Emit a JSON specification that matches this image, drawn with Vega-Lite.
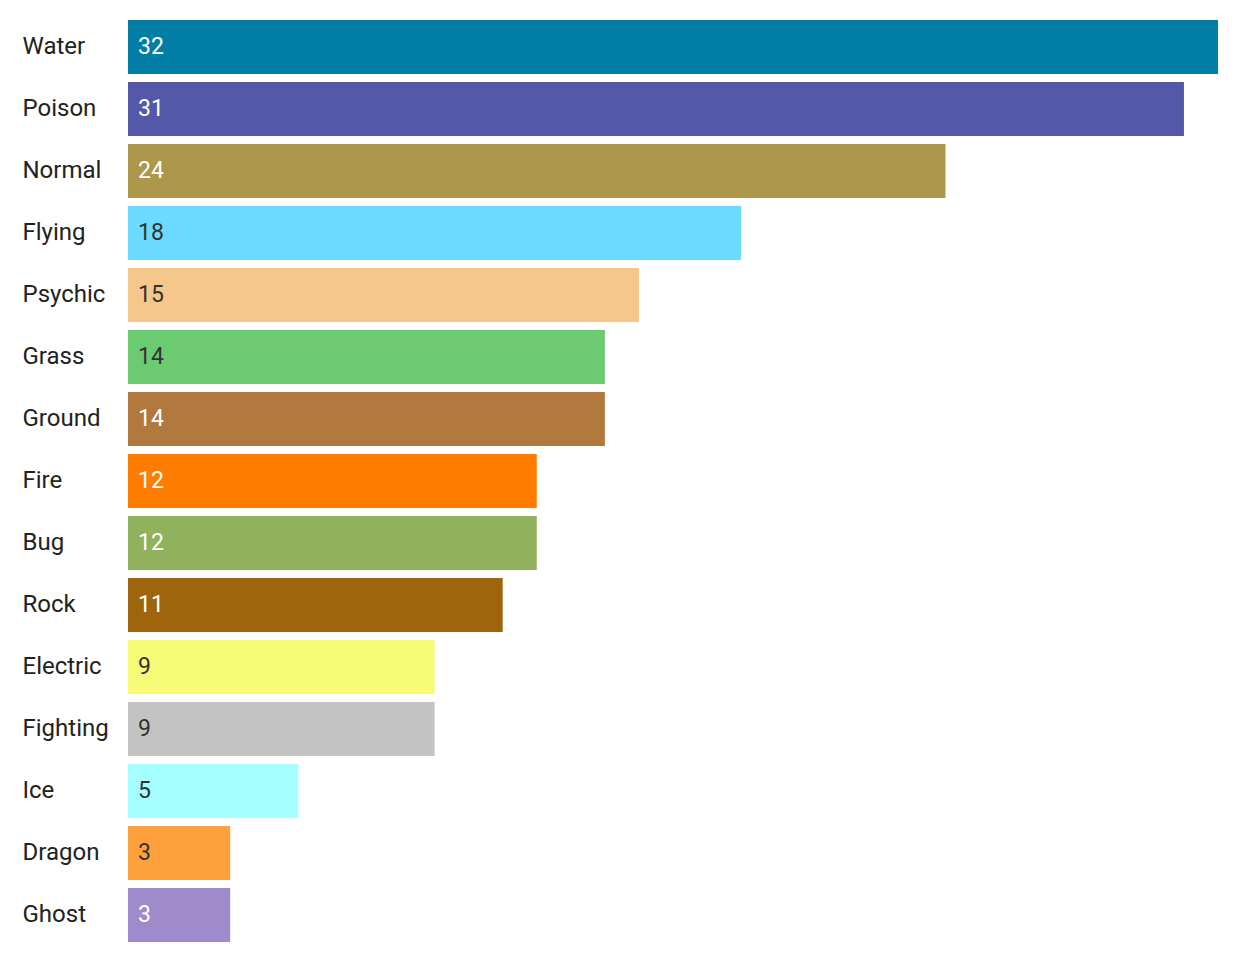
{
  "$schema": "https://vega.github.io/schema/vega-lite/v6.json",
  "width": 1090,
  "height": 930,
  "autosize": "none",
  "padding": {"left": 128, "top": 16, "right": 22, "bottom": 16},
  "background": "white",
  "config": {"view": {"stroke": null}, "font": "Roboto"},
  "data": {
    "values": [
      {"type": "Water", "count": 32},
      {"type": "Poison", "count": 31},
      {"type": "Normal", "count": 24},
      {"type": "Flying", "count": 18},
      {"type": "Psychic", "count": 15},
      {"type": "Grass", "count": 14},
      {"type": "Ground", "count": 14},
      {"type": "Fire", "count": 12},
      {"type": "Bug", "count": 12},
      {"type": "Rock", "count": 11},
      {"type": "Electric", "count": 9},
      {"type": "Fighting", "count": 9},
      {"type": "Ice", "count": 5},
      {"type": "Dragon", "count": 3},
      {"type": "Ghost", "count": 3}
    ]
  },
  "encoding": {
    "y": {
      "field": "type",
      "type": "nominal",
      "sort": null,
      "scale": {"paddingInner": 0.129, "paddingOuter": 0.065},
      "axis": {
        "title": null,
        "domain": false,
        "ticks": false,
        "labelAlign": "left",
        "labelPadding": 106,
        "labelFontSize": 24,
        "labelColor": "#222222",
        "labelFont": "Roboto"
      }
    }
  },
  "layer": [
    {
      "mark": {"type": "bar"},
      "encoding": {
        "x": {
          "field": "count",
          "type": "quantitative",
          "scale": {"domain": [0, 32], "nice": false},
          "axis": null
        },
        "color": {
          "field": "type",
          "type": "nominal",
          "legend": null,
          "scale": {
            "domain": ["Water", "Poison", "Normal", "Flying", "Psychic", "Grass", "Ground", "Fire", "Bug", "Rock", "Electric", "Fighting", "Ice", "Dragon", "Ghost"],
            "range": ["#027ea6", "#5458a8", "#ad974b", "#6cdafe", "#f5c78b", "#6ccb70", "#b2793e", "#fe7c00", "#91b25c", "#9f650d", "#f5fa77", "#c3c3c3", "#a5feff", "#fea03c", "#9f8bcb"]
          }
        }
      }
    },
    {
      "mark": {"type": "text", "align": "left", "baseline": "middle", "dx": 10, "fontSize": 23, "font": "Roboto"},
      "encoding": {
        "x": {"datum": 0, "type": "quantitative"},
        "text": {"field": "count", "type": "quantitative"},
        "color": {
          "field": "type",
          "type": "nominal",
          "legend": null,
          "scale": {
            "domain": ["Water", "Poison", "Normal", "Flying", "Psychic", "Grass", "Ground", "Fire", "Bug", "Rock", "Electric", "Fighting", "Ice", "Dragon", "Ghost"],
            "range": ["#ffffff", "#ffffff", "#ffffff", "#333333", "#333333", "#333333", "#ffffff", "#ffffff", "#ffffff", "#ffffff", "#333333", "#333333", "#333333", "#333333", "#ffffff"]
          }
        }
      }
    }
  ],
  "resolve": {"scale": {"color": "independent"}}
}
